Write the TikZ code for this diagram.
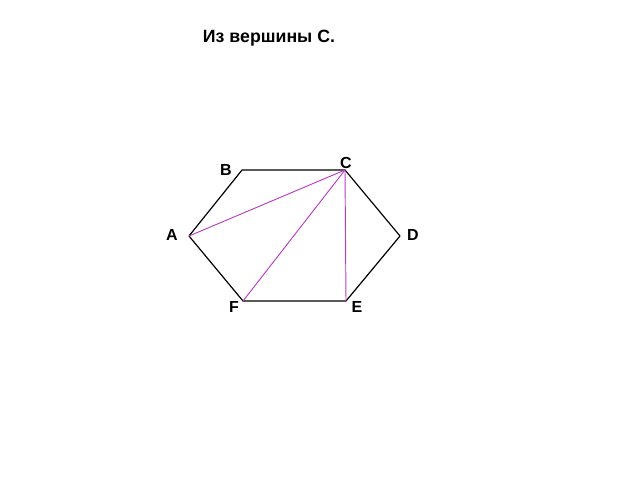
\documentclass[tikz,border=0pt]{standalone}
\usepackage{fontspec}
\setmainfont{Liberation Sans}
\definecolor{diag}{RGB}{185,60,195}
\begin{document}
\begin{tikzpicture}[x=0.75pt,y=-0.75pt,
  vlabel/.style={font=\bfseries\fontsize{12}{14}\selectfont},
  side/.style={black,line width=0.9pt,line join=round},
  diagline/.style={diag,line width=0.7pt}]
\useasboundingbox (0,0) rectangle (640,480);
\node[font=\bfseries\fontsize{13.3}{16}\selectfont] (title) at (269,38) {Из вершины С.};
% edit here for the vertices
\coordinate (A) at (189,236);
\coordinate (B) at (242,170);
\coordinate (C) at (345,170);
\coordinate (D) at (400,236);
\coordinate (E) at (346,301);
\coordinate (F) at (243,301);
\draw[side] (A) -- (B) -- (C) -- (D) -- (E) -- (F) -- cycle;
% edit here for the diagonals
\foreach \v in {A,F,E}
\draw[diagline] (C) -- (\v);
% edit here for the letters
\node[vlabel] (la) at (172,235) {A};
\node[vlabel] (lb) at (226,170) {B};
\node[vlabel] (lc) at (346,163) {C};
\node[vlabel] (ld) at (413,235) {D};
\node[vlabel] (le) at (357,307) {E};
\node[vlabel] (lf) at (234,307) {F};
\end{tikzpicture}
\end{document}
